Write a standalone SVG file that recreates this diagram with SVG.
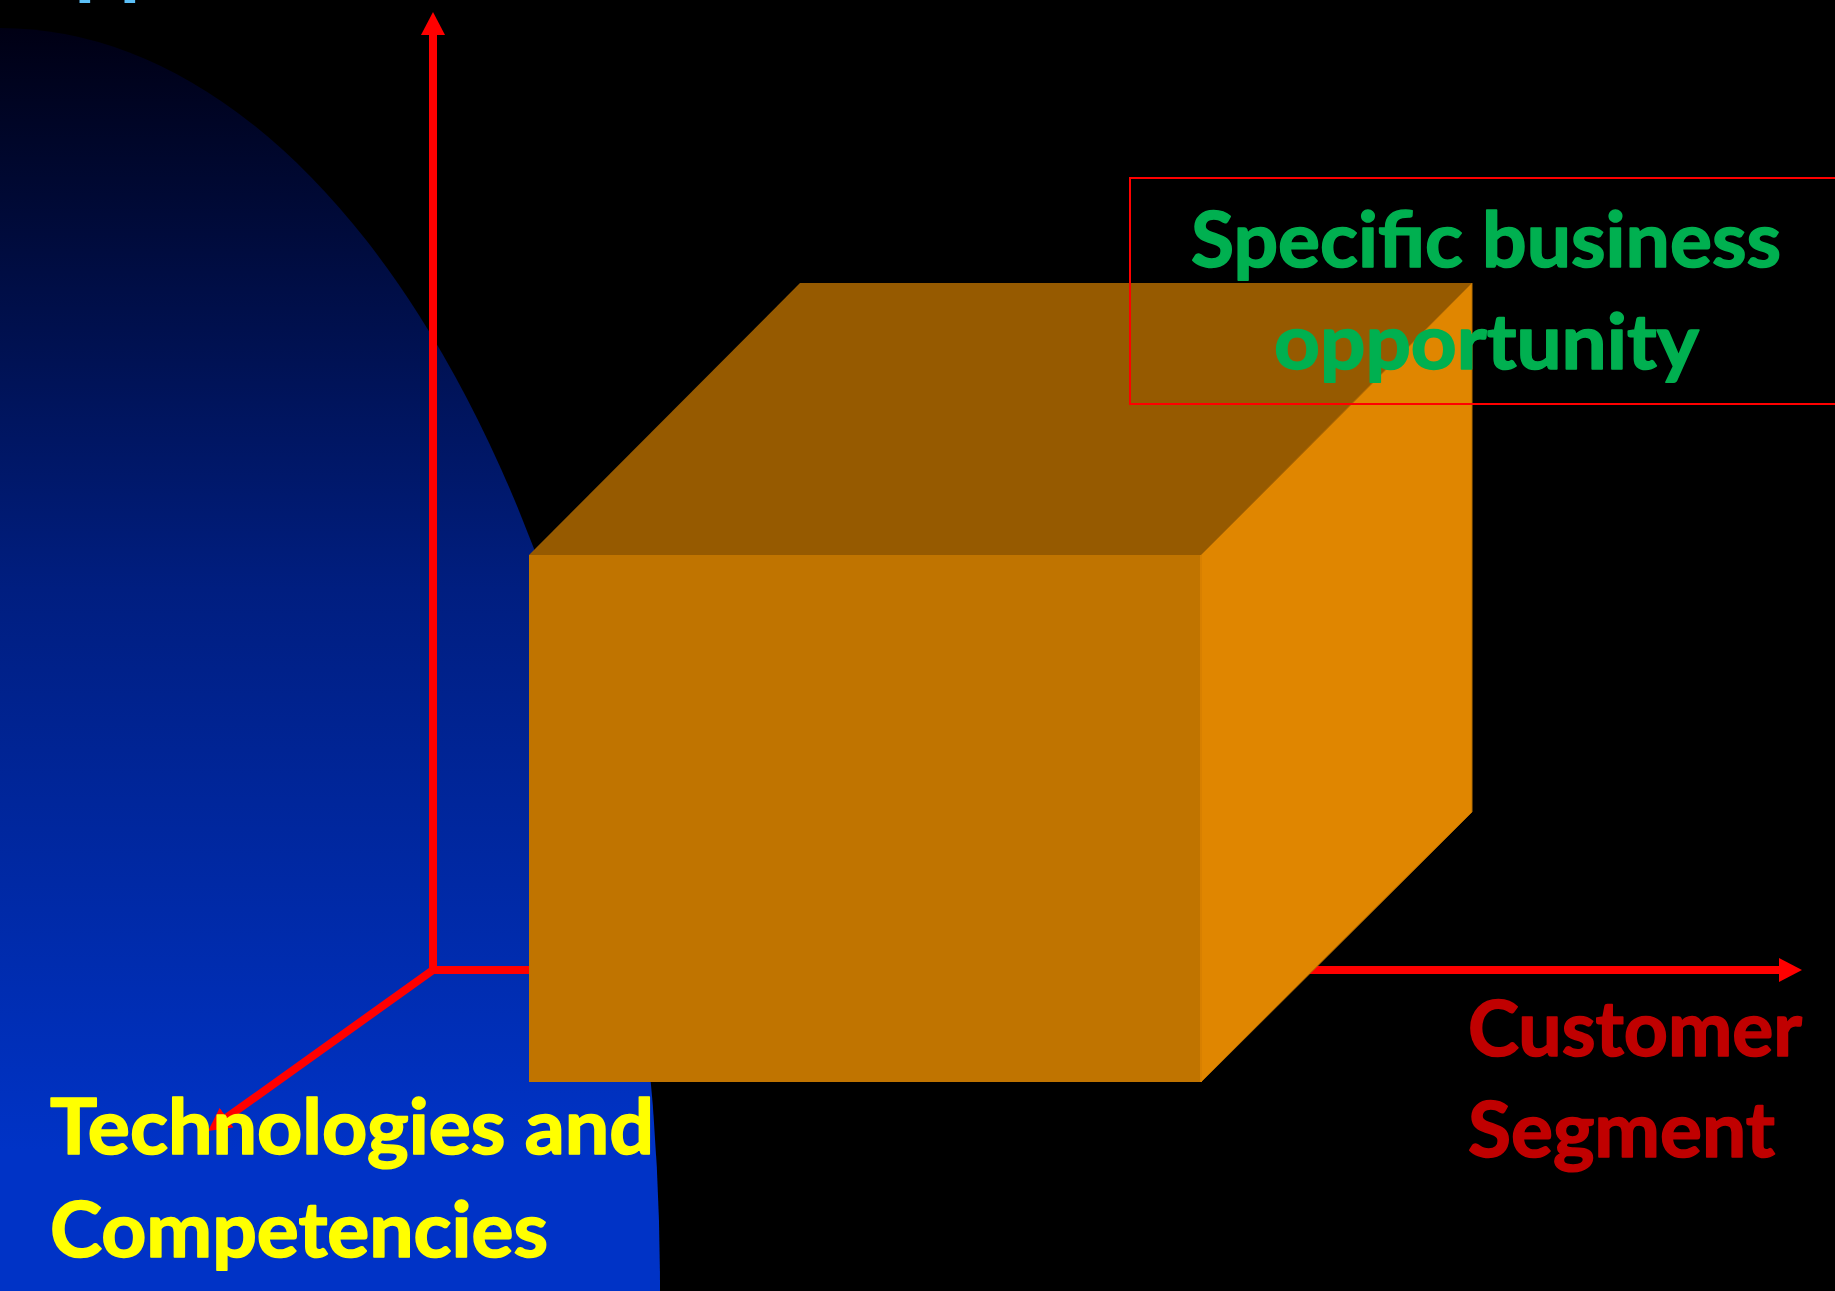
<svg xmlns="http://www.w3.org/2000/svg" width="1835" height="1291" viewBox="0 0 1835 1291">
  <defs>
    <linearGradient id="blueFade" gradientUnits="userSpaceOnUse" x1="0" y1="28" x2="0" y2="1150">
      <stop offset="0" stop-color="#000014"/>
      <stop offset="0.5" stop-color="#001E80"/>
      <stop offset="1" stop-color="#0033C6"/>
    </linearGradient>
    <marker id="arrow" viewBox="0 0 24 24" markerUnits="userSpaceOnUse" markerWidth="24" markerHeight="24" refX="0" refY="12" orient="auto">
      <path d="M0,0 L23,12 L0,24 z" fill="#FF0000"/>
    </marker>
    <style>
      .axis { stroke: #FF0000; stroke-width: 8; fill: none; marker-end: url(#arrow); }
      .lbl { font-family: Lato, "Open Sans", "Liberation Sans", sans-serif; font-weight: bold; font-size: 76px; stroke-width: 1.6; stroke-linejoin: round; }
      .green { fill: #00B050; stroke: #00B050; }
      .red { fill: #C00000; stroke: #C00000; }
      .yellow { fill: #FFFF00; stroke: #FFFF00; }
    </style>
  </defs>

  <rect x="0" y="0" width="1835" height="1291" fill="#000000"/>

  <g id="backdrop">
    <ellipse cx="0" cy="1291" rx="660" ry="1263" fill="url(#blueFade)"/>
    <text x="74" y="-14" font-family="'Open Sans', sans-serif" font-weight="bold" font-size="71" fill="#5BC0F8">pp</text>
  </g>

  <g id="connectors">
    <line class="axis" x1="433" y1="974" x2="433" y2="35"/>
    <line class="axis" x1="429" y1="970" x2="1779" y2="970"/>
    <line class="axis" x1="433" y1="970" x2="226.7" y2="1117.6"/>
  </g>

  <g id="cube">
    <polygon points="529,555 800,283 1472,283 1201,555" fill="#965A00"/>
    <polygon points="1201,555 1472,283 1472,812 1201,1082" fill="#E08600" stroke="#B86E00" stroke-width="1"/>
    <rect x="529" y="555" width="672" height="527" fill="#C07400"/>
    <line x1="1201" y1="555" x2="1201" y2="1082" stroke="#D88000" stroke-width="2"/>
  </g>

  <g id="opportunity">
    <rect x="1130" y="178" width="720" height="226" fill="none" stroke="#FF0000" stroke-width="2"/>
    <text class="lbl green" x="1191" y="267" textLength="590" lengthAdjust="spacingAndGlyphs">Specific business</text>
    <text class="lbl green" x="1274" y="369" textLength="425" lengthAdjust="spacingAndGlyphs">opportunity</text>
  </g>

  <g id="customer-segment">
    <text class="lbl red" x="1468" y="1056" textLength="334" lengthAdjust="spacingAndGlyphs">Customer</text>
    <text class="lbl red" x="1468" y="1157" textLength="307" lengthAdjust="spacingAndGlyphs">Segment</text>
  </g>

  <g id="technologies">
    <text class="lbl yellow" x="50" y="1154" textLength="604" lengthAdjust="spacingAndGlyphs">Technologies and</text>
    <text class="lbl yellow" x="50" y="1257" textLength="498" lengthAdjust="spacingAndGlyphs">Competencies</text>
  </g>
</svg>
